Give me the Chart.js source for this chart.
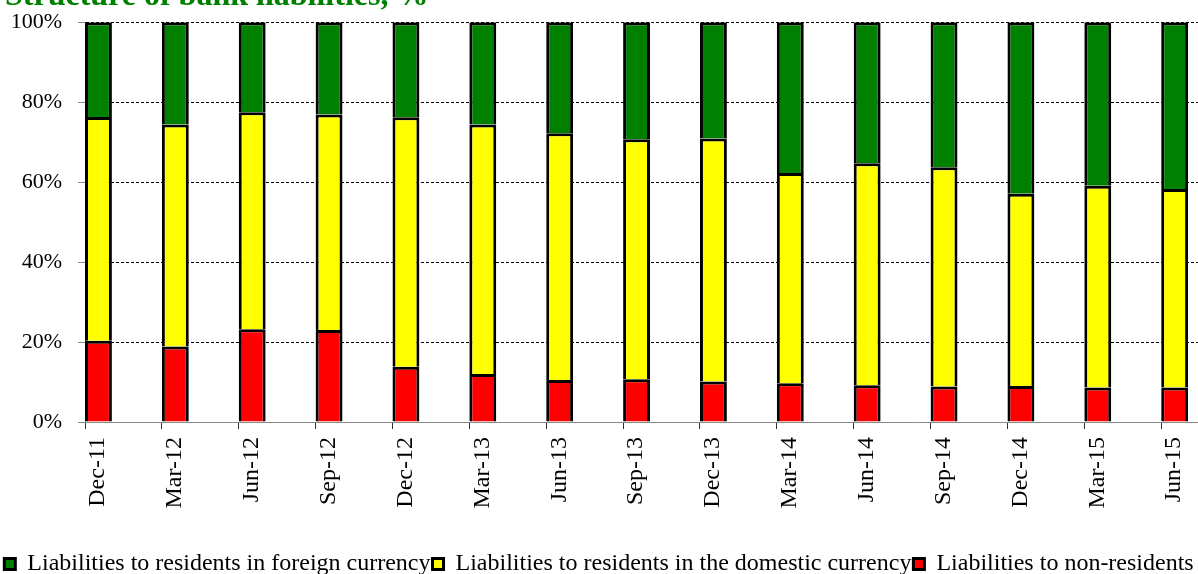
<!DOCTYPE html>
<html>
<head>
<meta charset="utf-8">
<script src="https://cdn.jsdelivr.net/npm/chart.js@4.4.1/dist/chart.umd.min.js"></script>
<style>
  html, body { margin: 0; padding: 0; background: #fff; overflow: hidden; }
  #wrap { width: 1198px; height: 593px; position: relative; margin-top: -7px; }
</style>
</head>
<body>
<div id="wrap"><canvas id="chart"></canvas></div>
<script>
const categories = ["Dec-11", "Mar-12", "Jun-12", "Sep-12", "Dec-12", "Mar-13", "Jun-13", "Sep-13",
  "Dec-13", "Mar-14", "Jun-14", "Sep-14", "Dec-14", "Mar-15", "Jun-15"];

// shares in %
const nonResidents = [20.3, 18.9, 23.2, 23.0, 13.8, 12.0, 10.5, 10.7, 10.1, 9.7, 9.2, 8.9, 9.0, 8.6, 8.6];
const residentsDomestic = [56.0, 55.5, 54.3, 53.9, 62.4, 62.4, 61.7, 60.0, 60.8, 52.6, 55.5, 54.8, 48.1, 50.5, 49.7];
const residentsForeign = [23.7, 25.6, 22.5, 23.1, 23.8, 25.6, 27.8, 29.3, 29.1, 37.7, 35.3, 36.3, 42.9, 40.9, 41.7];

const yTicks = [0, 20, 40, 60, 80, 100];

const serif = '"Liberation Serif", "Times New Roman", serif';
const barShare = 0.35;        // bar width as part of one category step
const half = barShare / 2;

// title is cut off at the top edge in the original
const titlePlugin = {
  id: "clippedTitle",
  afterDraw(chart) {
    const ctx = chart.ctx;
    ctx.save();
    ctx.font = "bold 32px " + serif;
    ctx.fillStyle = "#008000";
    ctx.textBaseline = "alphabetic";
    ctx.fillText("Structure of bank liabilities, %", 5, 12);
    ctx.restore();
  },
};

const common = {
  borderColor: "#000",
  borderWidth: 3,
  categoryPercentage: barShare,
  barPercentage: 1,
};

new Chart(document.getElementById("chart"), {
  type: "bar",
  data: {
    labels: categories.map((c, i) => i),
    datasets: [
      { ...common, label: "Liabilities to non-residents", data: nonResidents, backgroundColor: "#ff0000" },
      { ...common, label: "Liabilities to residents in the domestic currency", data: residentsDomestic, backgroundColor: "#ffff00" },
      { ...common, label: "Liabilities to residents in foreign currency", data: residentsForeign, backgroundColor: "#008000" },
    ],
  },
  plugins: [titlePlugin],
  options: {
    responsive: true,
    maintainAspectRatio: false,
    animation: false,
    layout: { padding: { top: 15, right: 0, bottom: 0, left: 0 } },
    plugins: {
      title: { display: false },
      tooltip: { enabled: false },
      legend: {
        position: "bottom",
        reverse: true,
        labels: {
          color: "#000",
          font: { family: serif, size: 24 },
          boxWidth: 11,
          boxHeight: 11,
          padding: 2,
        },
      },
    },
    scales: {
      x: {
        type: "linear",
        stacked: true,
        offset: false,
        min: -half,
        max: 14.3,
        afterBuildTicks: (scale) => {
          scale.ticks = categories.map((c, i) => ({ value: i - half }));
        },
        afterFit: (scale) => { scale.height = 128; },
        ticks: {
          autoSkip: false,
          minRotation: 90,
          maxRotation: 90,
          labelOffset: 13,
          padding: 8,
          color: "#000",
          font: { family: serif, size: 24 },
          callback: (value, index) => categories[index],
        },
        grid: {
          offset: false,
          drawOnChartArea: false,
          tickLength: 7,
          tickColor: "#333",
          color: "#333",
        },
        border: { color: "#888", width: 1 },
      },
      y: {
        stacked: true,
        min: 0,
        max: 100,
        afterBuildTicks: (scale) => {
          scale.ticks = yTicks.map((v) => ({ value: v }));
        },
        afterFit: (scale) => { scale.width = 85; },
        ticks: {
          padding: 16,
          color: "#000",
          font: { family: serif, size: 22 },
          callback: (value) => value + "%",
        },
        grid: {
          color: (ctx) => (ctx.tick && ctx.tick.value === 0 ? "#888" : "#000"),
          tickColor: "#888",
          tickLength: 7,
          lineWidth: 1,
        },
        border: { color: "#888", width: 1, dash: [3, 2] },
      },
    },
  },
});
</script>
</body>
</html>
